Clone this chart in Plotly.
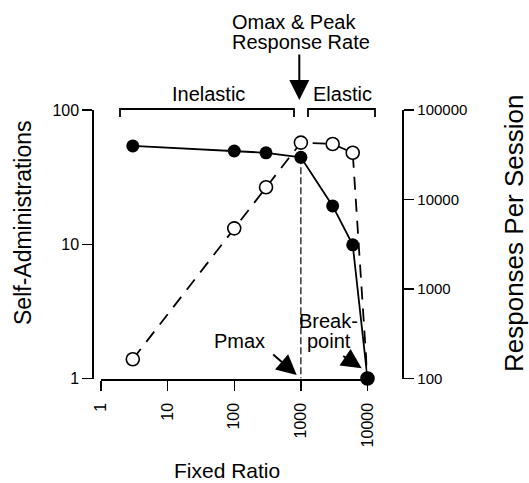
import plotly.graph_objects as go

# ---- data ----
fixed_ratio = [3, 100, 300, 1000, 3000, 6000, 10000]
self_admin = [54, 49.5, 48, 44.4, 19.3, 9.9, 1]
responses = [164, 4760, 13700, 43200, 41700, 33300, 100]
pmax_ratio = [1000, 1000]
pmax_line_y = [44.4, 1]

x_ticks = [1, 10, 100, 1000, 10000]
x_ticktext = ["1", "10", "100", "1000", "10000"]
y_ticks = [1, 10, 100]
y_ticktext = ["1", "10", "100"]
resp_ticks = [100, 1000, 10000, 100000]
resp_ticktext = ["100", "1000", "10000", "100000"]

W, H = 529, 483
FONT = "Liberation Sans, Arial, Helvetica, sans-serif"


def px(x):
    return x / W


def py(y):
    return 1 - y / H


fig = go.Figure()

# responses per session (open circles, dashed) -> base y axis (right side)
fig.add_trace(go.Scatter(
    x=fixed_ratio, y=responses, yaxis="y", mode="lines+markers",
    line=dict(color="black", width=1.8, dash="13px,9px"),
    marker=dict(symbol="circle", size=13, color="white",
                line=dict(color="black", width=1.6)),
    cliponaxis=False, showlegend=False, hoverinfo="skip"))

# Pmax vertical dashed line (self-administration scale)
fig.add_trace(go.Scatter(
    x=pmax_ratio, y=pmax_line_y, yaxis="y2", mode="lines",
    line=dict(color="black", width=1.2, dash="7px,3px"),
    cliponaxis=False, showlegend=False, hoverinfo="skip"))

# self-administrations (filled circles, solid) -> overlaying axis (left side)
fig.add_trace(go.Scatter(
    x=fixed_ratio, y=self_admin, yaxis="y2", mode="lines+markers",
    line=dict(color="black", width=1.8),
    marker=dict(symbol="circle", size=13, color="black"),
    cliponaxis=False, showlegend=False, hoverinfo="skip"))

tickfont = dict(family=FONT, size=16, color="black")
ydom = [py(378.5), py(110)]

fig.update_layout(
    width=W, height=H,
    margin=dict(l=0, r=0, t=0, b=0, autoexpand=False),
    paper_bgcolor="white", plot_bgcolor="white",
    showlegend=False,
    xaxis=dict(
        type="log", range=[0, 4], domain=[px(101), px(367.5)],
        anchor="y", tickmode="array", tickvals=x_ticks, ticktext=x_ticktext,
        tickangle=-90, ticks="outside", ticklen=10, tickwidth=1.5,
        tickcolor="black", showline=True, linecolor="black", linewidth=2,
        showgrid=False, zeroline=False, tickfont=tickfont,
        ticklabelstandoff=6, automargin=False,
    ),
    yaxis=dict(
        type="log", range=[2, 5], domain=ydom,
        side="right", anchor="free", position=px(403.3),
        tickmode="array", tickvals=resp_ticks, ticktext=resp_ticktext,
        ticks="outside", ticklen=10, tickwidth=1.5, tickcolor="black",
        showline=True, linecolor="black", linewidth=2,
        showgrid=False, zeroline=False, automargin=False,
        tickfont=dict(family=FONT, size=15, color="black"),
    ),
    yaxis2=dict(
        type="log", range=[0, 2], domain=ydom,
        overlaying="y", side="left", anchor="free", position=px(93.3),
        tickmode="array", tickvals=y_ticks, ticktext=y_ticktext,
        ticks="outside", ticklen=10, tickwidth=1.5, tickcolor="black",
        showline=True, linecolor="black", linewidth=2,
        showgrid=False, zeroline=False, tickfont=tickfont, automargin=False,
    ),
)


# brackets
def bracket(x0, x1, ytop, ytip):
    return dict(type="path", xref="paper", yref="paper",
                path=f"M {px(x0)},{py(ytip)} L {px(x0)},{py(ytop)} "
                     f"L {px(x1)},{py(ytop)} L {px(x1)},{py(ytip)}",
                line=dict(color="black", width=1.8))


fig.add_shape(bracket(120, 294, 109, 117))
fig.add_shape(bracket(308, 375, 109, 117))


def text(x, y, s, size=20, angle=0, xanchor="center"):
    fig.add_annotation(x=px(x), y=py(y), xref="paper", yref="paper",
                       text=s, showarrow=False, textangle=angle,
                       xanchor=xanchor, yanchor="middle",
                       font=dict(family=FONT, size=size, color="black"))


def arrow(tipx, tipy, tailx, taily):
    fig.add_annotation(x=px(tipx), y=py(tipy), xref="paper", yref="paper",
                       ax=tailx - tipx, ay=taily - tipy, text="",
                       showarrow=True, arrowhead=2, arrowsize=2.0,
                       arrowwidth=2, arrowcolor="black", standoff=0,
                       startstandoff=0)


text(208, 94, "Inelastic")
text(342, 94, "Elastic")
text(230, 22, "Omax &amp; Peak", xanchor="left")
text(230, 42, "Response Rate", xanchor="left")
arrow(299.3, 100, 299.3, 53)
text(239, 341, "Pmax")
arrow(296.7, 375, 271.7, 353.3)
text(328, 321, "Break-")
text(329, 341, "point")
arrow(361.7, 368.3, 341.7, 355)

# axis titles
text(23, 223, "Self-Administrations", size=23, angle=-90)
text(514, 234, "Responses Per Session", size=26, angle=-90)
text(226.5, 470, "Fixed Ratio", size=21)

fig.write_html(
    "out.html",
    config={"displayModeBar": False, "staticPlot": True},
    post_script="document.body.style.margin='0';document.body.style.overflow='hidden';",
)
